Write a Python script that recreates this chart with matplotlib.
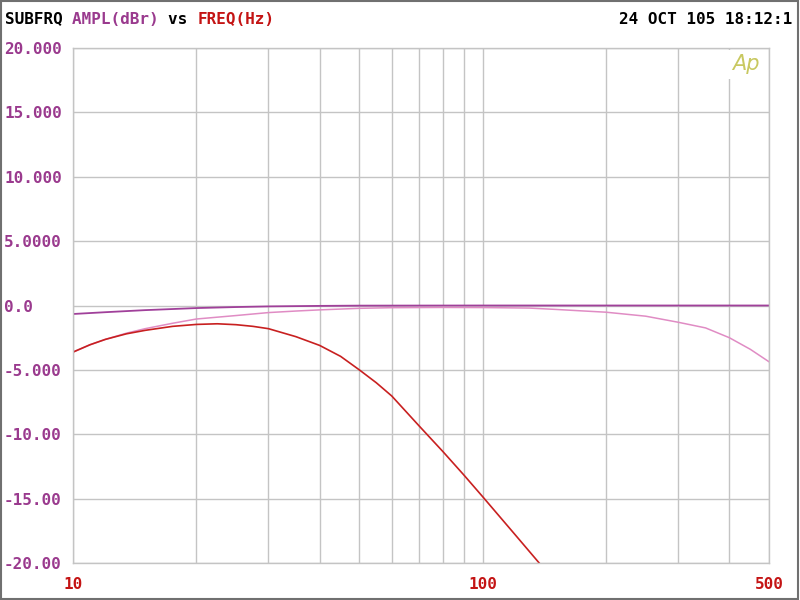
import numpy as np
import matplotlib
matplotlib.use("Agg")
import matplotlib.pyplot as plt
from matplotlib.patches import Rectangle

# curves (freq in Hz, level in dBr)
flat_freq = [10, 12, 15, 20, 25, 30, 40, 50, 100, 200, 500]
flat_db = [-0.66, -0.52, -0.36, -0.2, -0.12, -0.07, -0.03, -0.01, 0.0, 0.0, 0.0]

pink_freq = [10, 11, 12, 13.5, 15, 17.5, 20, 25, 30, 35, 40, 50, 60, 80, 100, 130,
             150, 175, 200, 250, 300, 350, 400, 450, 500]
pink_db = [-3.62, -3.05, -2.63, -2.15, -1.8, -1.38, -1.05, -0.78, -0.55, -0.43,
           -0.34, -0.22, -0.17, -0.15, -0.16, -0.2, -0.3, -0.42, -0.52, -0.83,
           -1.3, -1.74, -2.5, -3.4, -4.37]

red_freq = [10, 11, 12, 13.5, 15, 17.5, 20, 22.5, 25, 27.5, 30, 35, 40, 45, 50, 55,
            60, 70, 80, 90, 100, 120, 137.4]
red_db = [-3.62, -3.05, -2.63, -2.2, -1.93, -1.62, -1.47, -1.42, -1.49, -1.62,
          -1.8, -2.42, -3.1, -3.95, -5.0, -6.0, -7.03, -9.36, -11.35, -13.17,
          -14.85, -17.8, -20.0]

y_ticks = [20, 15, 10, 5, 0, -5, -10, -15, -20]
y_labels = ["20.000", "15.000", "10.000", "5.0000", "0.0", "-5.000", "-10.00", "-15.00", "-20.00"]
x_ticks = [10, 100, 500]
x_labels = ["10", "100", "500"]
x_minor = [20, 30, 40, 50, 60, 70, 80, 90, 200, 300, 400]

purple = "#9a3a8e"
red = "#c41414"
grid_c = "#c4c4c4"
mono = "DejaVu Sans Mono"
fs = 11.5

fig = plt.figure(figsize=(8, 6), dpi=100)
ax = fig.add_axes([73 / 800, 1 - 563 / 600, 696 / 800, 515 / 600])

ax.plot(flat_freq, flat_db, color="#a0409a", lw=1.3)
ax.plot(pink_freq, pink_db, color="#e08cc4", lw=1.1)
ax.plot(red_freq, red_db, color="#c82020", lw=1.2)

ax.set_xscale("log")
ax.set_xlim(10, 500)
ax.set_ylim(-20, 20)
ax.set_xticks(x_ticks)
ax.set_xticklabels(x_labels)
ax.set_xticks(x_minor, minor=True)
ax.set_xticklabels([], minor=True)
ax.set_yticks(y_ticks)
ax.set_yticklabels(y_labels)

ax.grid(True, which="both", color=grid_c, lw=1.0)
ax.set_axisbelow(True)
for s in ax.spines.values():
    s.set_color(grid_c)
    s.set_linewidth(1.0)

ax.tick_params(axis="both", which="both", length=0)
ax.tick_params(axis="y", pad=69 * 0.72, labelcolor=purple, labelsize=fs)
ax.tick_params(axis="x", pad=10, labelcolor=red, labelsize=fs)
for t in ax.get_yticklabels():
    t.set_horizontalalignment("left")
    t.set_fontfamily(mono)
    t.set_fontweight("bold")
for t in ax.get_xticklabels():
    t.set_fontfamily(mono)
    t.set_fontweight("bold")

# Ap logo
ax.text(0.967, 0.968, "Ap", transform=ax.transAxes, color="#c8c860", fontsize=15,
        style="italic", fontfamily="DejaVu Sans", fontweight="light", ha="center", va="center",
        bbox=dict(facecolor="white", edgecolor="none", pad=3))

# header line
y_head = 1 - 19 / 600
parts = [("SUBFRQ ", "black"), ("AMPL(dBr) ", purple), ("vs ", "black"), ("FREQ(Hz)", red)]
x = 5 / 800
for txt, col in parts:
    fig.text(x, y_head, txt, color=col, fontsize=fs, fontfamily=mono,
             fontweight="bold", va="center")
    x += len(txt) * 0.602 * fs / 72 * 100 / 800
fig.text(792 / 800, y_head, "24 OCT 105 18:12:1", color="black", fontsize=fs,
         fontfamily=mono, fontweight="bold", ha="right", va="center")

# outer frame
fig.patches.append(Rectangle((0.001, 0.002), 0.997, 0.996, transform=fig.transFigure,
                             fill=False, edgecolor="#707070", lw=1.5))

fig.savefig("out.png", dpi=100)
